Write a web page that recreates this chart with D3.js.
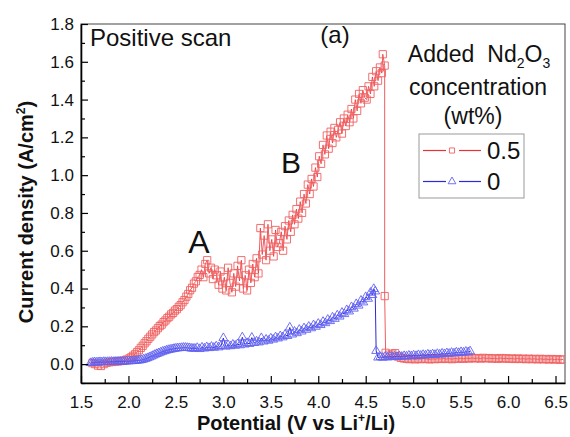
<!DOCTYPE html>
<html><head><meta charset="utf-8">
<script src="https://cdn.jsdelivr.net/npm/d3@7"></script>
<style>
body{margin:0;background:#fff}
svg{display:block}
text{font-family:"Liberation Sans",Arial,sans-serif;fill:#111}
</style>
</head><body>
<svg id="c" width="570" height="437"></svg>
<script>
const xTicks=[1.5,2.0,2.5,3.0,3.5,4.0,4.5,5.0,5.5,6.0,6.5];
const xMinor=[1.75,2.25,2.75,3.25,3.75,4.25,4.75,5.25,5.75,6.25];
const yTicks=[0.0,0.2,0.4,0.6,0.8,1.0,1.2,1.4,1.6,1.8];
const yMinor=[-0.1,0.1,0.3,0.5,0.7,0.9,1.1,1.3,1.5,1.7];
const legendLabels=["0.5","0"];

const redScan=[
[1.62,0.005],[1.65,0.0],[1.68,-0.008],[1.71,-0.01],[1.74,0.0],[1.77,0.007],[1.80,0.01],[1.83,0.011],[1.86,0.013],[1.89,0.014],[1.92,0.016],[1.95,0.019],[1.98,0.024],[2.01,0.03],
[2.03,0.036],[2.05,0.044],[2.07,0.052],[2.09,0.063],[2.11,0.073],[2.13,0.086],[2.15,0.097],[2.17,0.11],[2.19,0.121],[2.21,0.134],[2.23,0.145],[2.25,0.157],[2.27,0.169],[2.29,0.178],[2.31,0.19],[2.33,0.201],[2.35,0.209],[2.37,0.222],[2.39,0.231],[2.41,0.243],[2.43,0.251],[2.45,0.263],[2.47,0.271],[2.49,0.283],[2.51,0.291],[2.53,0.303],[2.55,0.312],[2.57,0.327],[2.59,0.339],[2.61,0.357],[2.63,0.371],[2.65,0.391],[2.67,0.404],[2.69,0.426],[2.71,0.438],[2.73,0.461],[2.75,0.472],
[2.77,0.50],[2.79,0.46],[2.81,0.53],[2.83,0.55],[2.85,0.48],[2.87,0.51],[2.89,0.45],[2.91,0.50],[2.93,0.47],[2.95,0.42],[2.97,0.49],[2.99,0.40],[3.01,0.46],[3.03,0.39],[3.05,0.51],[3.07,0.43],[3.09,0.38],[3.11,0.48],[3.13,0.41],[3.15,0.52],[3.17,0.44],[3.19,0.55],[3.21,0.40],[3.23,0.47],[3.25,0.39],[3.27,0.50],[3.29,0.43],[3.31,0.53],[3.33,0.46],[3.35,0.56],[3.37,0.48],[3.39,0.72],[3.41,0.58],[3.43,0.68],[3.45,0.55],[3.47,0.74],[3.49,0.60],[3.51,0.66],[3.53,0.57],[3.55,0.71],[3.57,0.62],[3.59,0.64],[3.61,0.70],[3.63,0.60],[3.65,0.73],
[3.67,0.66],[3.69,0.76],[3.71,0.70],[3.73,0.79],[3.75,0.74],[3.77,0.82],[3.79,0.77],[3.81,0.86],[3.83,0.80],[3.85,0.90],[3.87,0.85],[3.89,0.95],[3.91,0.90],[3.93,0.98],[3.95,0.94],[3.97,1.04],[3.99,0.99],[4.01,1.10],[4.03,1.06],[4.05,1.16],[4.07,1.11],[4.09,1.21],[4.11,1.14],[4.13,1.23],[4.15,1.17],[4.17,1.25],[4.19,1.20],[4.21,1.24],[4.23,1.28],[4.25,1.22],[4.27,1.30],[4.29,1.26],[4.31,1.32],[4.33,1.28],[4.35,1.35],[4.37,1.30],[4.39,1.40],[4.41,1.34],[4.43,1.43],[4.45,1.38],[4.47,1.45],[4.49,1.41],[4.51,1.40],[4.53,1.47],[4.55,1.43],[4.57,1.52],[4.59,1.47],[4.61,1.55],[4.63,1.50],[4.65,1.57],[4.67,1.54],[4.68,1.64],[4.70,1.58],
[4.70,0.36],[4.71,0.06],[4.75,0.05],[4.78,0.055],[4.81,0.058],[4.84,0.04],[4.87,0.033],[4.90,0.03],
[4.93,0.028],[4.96,0.026],[4.99,0.029],[5.02,0.025],[5.05,0.028],[5.08,0.026],[5.11,0.029],[5.14,0.027],[5.17,0.025],[5.20,0.028],[5.23,0.026],[5.26,0.029],[5.29,0.027],[5.32,0.03],[5.35,0.027],[5.38,0.029],[5.41,0.026],[5.44,0.03],[5.47,0.028],[5.50,0.031],[5.53,0.028],[5.56,0.032],[5.59,0.029],[5.62,0.033],[5.65,0.03],[5.68,0.032],[5.71,0.029],[5.74,0.033],[5.77,0.03],[5.80,0.032],[5.83,0.029],[5.86,0.031],[5.89,0.028],[5.92,0.032],[5.95,0.029],[5.98,0.031],[6.01,0.028],[6.04,0.03],[6.07,0.027],[6.10,0.03],[6.13,0.027],[6.16,0.029],[6.19,0.026],[6.22,0.029],[6.25,0.026],[6.28,0.028],[6.31,0.025],[6.34,0.028],[6.37,0.025],[6.40,0.027],[6.43,0.024],[6.46,0.027],[6.49,0.024],[6.52,0.026],[6.55,0.023],[6.58,0.025]
];

const blueScan=[
[1.60,0.006],[1.62,0.008],[1.64,0.01],[1.66,0.009],[1.68,0.01],[1.70,0.011],[1.72,0.01],[1.74,0.012],[1.76,0.011],[1.78,0.012],[1.80,0.012],[1.82,0.013],[1.84,0.012],[1.86,0.013],[1.88,0.013],[1.90,0.014],[1.92,0.013],[1.94,0.014],[1.96,0.014],[1.98,0.015],[2.00,0.015],[2.02,0.016],[2.04,0.016],[2.06,0.017],[2.08,0.018],[2.10,0.019],
[2.12,0.02],[2.14,0.022],[2.16,0.025],[2.18,0.028],[2.20,0.032],[2.22,0.036],[2.24,0.04],[2.26,0.045],[2.28,0.05],[2.30,0.054],[2.32,0.058],[2.34,0.062],[2.36,0.066],[2.38,0.069],[2.40,0.072],[2.42,0.075],[2.44,0.077],[2.46,0.079],[2.48,0.081],[2.50,0.083],[2.52,0.084],[2.54,0.085],[2.56,0.086],[2.58,0.087],[2.60,0.087],[2.62,0.086],[2.64,0.085],[2.66,0.083],[2.68,0.082],
[2.70,0.082],[2.725,0.086],[2.75,0.08],[2.775,0.088],[2.80,0.083],[2.825,0.09],[2.85,0.085],[2.875,0.092],[2.90,0.087],[2.925,0.094],[2.95,0.089],[2.975,0.096],[3.00,0.138],[3.025,0.093],[3.05,0.1],[3.075,0.095],[3.10,0.103],[3.125,0.098],[3.15,0.106],[3.175,0.1],[3.20,0.142],[3.225,0.104],[3.25,0.112],[3.275,0.107],[3.30,0.14],[3.325,0.112],[3.35,0.12],[3.375,0.115],[3.40,0.138],[3.425,0.12],[3.45,0.13],[3.475,0.124],[3.50,0.136],[3.525,0.13],[3.55,0.142],[3.575,0.136],[3.60,0.148],[3.625,0.142],[3.65,0.156],[3.675,0.149],[3.70,0.194],[3.725,0.157],[3.75,0.172],[3.775,0.164],[3.80,0.182],[3.825,0.173],[3.85,0.19],[3.875,0.182],[3.90,0.198],[3.925,0.19],[3.95,0.206],[3.975,0.198],[4.00,0.214],[4.025,0.207],[4.05,0.224],[4.075,0.217],[4.10,0.235],[4.125,0.228],[4.15,0.247],[4.175,0.24],[4.20,0.258],[4.225,0.252],[4.25,0.272],[4.275,0.265],[4.30,0.286],[4.325,0.279],[4.35,0.302],[4.375,0.294],[4.40,0.318],[4.425,0.31],[4.45,0.336],[4.475,0.327],[4.50,0.355],[4.525,0.346],[4.55,0.378],[4.57,0.366],[4.585,0.398],[4.60,0.385],
[4.61,0.07],[4.63,0.035],[4.655,0.038],[4.68,0.034],[4.705,0.039],[4.73,0.036],[4.755,0.04],[4.78,0.037],[4.805,0.041],[4.83,0.038],[4.855,0.042],[4.88,0.039],[4.905,0.043],[4.93,0.041],[4.955,0.045],[4.98,0.042],[5.005,0.046],[5.03,0.043],[5.055,0.048],[5.08,0.045],[5.105,0.049],[5.13,0.046],[5.155,0.051],[5.18,0.048],[5.205,0.052],[5.23,0.049],[5.255,0.054],[5.28,0.051],[5.305,0.056],[5.33,0.053],[5.355,0.058],[5.38,0.055],[5.405,0.06],[5.43,0.057],[5.455,0.062],[5.48,0.059],[5.505,0.064],[5.53,0.061],[5.555,0.066],[5.58,0.063],[5.60,0.068]
];

const svg=d3.select("#c");
const L=81,R=565,T=24,B=383;
const x=d3.scaleLinear().domain([1.5,6.6]).range([L,R]);
const y=d3.scaleLinear().domain([-0.1,1.8]).range([B,T]);

const redLine="#e8333a", redMark="#f06060", blueLine="#2a2ad8", blueMark="#6262f2";

// frame
svg.append("rect").attr("x",L).attr("y",T).attr("width",R-L).attr("height",B-T)
  .attr("fill","none").attr("stroke","#444").attr("stroke-width",1);

svg.append("defs").append("clipPath").attr("id","clip").append("rect")
  .attr("x",L).attr("y",T).attr("width",R-L).attr("height",B-T);
const plot=svg.append("g").attr("clip-path","url(#clip)");

const line=d3.line().x(d=>x(d[0])).y(d=>y(d[1]));
const sq=d3.symbol().type(d3.symbolSquare).size(52);
const tri=d3.symbol().type(d3.symbolTriangle).size(34);

plot.append("path").datum(redScan).attr("d",line).attr("fill","none").attr("stroke",redLine).attr("stroke-width",0.8);
plot.append("g").selectAll("path").data(redScan).join("path")
  .attr("d",sq).attr("transform",d=>`translate(${x(d[0])},${y(d[1])})`)
  .attr("fill","none").attr("stroke",redMark).attr("stroke-width",0.9);

plot.append("path").datum(blueScan).attr("d",line).attr("fill","none").attr("stroke",blueLine).attr("stroke-width",1);
plot.append("g").selectAll("path").data(blueScan).join("path")
  .attr("d",tri).attr("transform",d=>`translate(${x(d[0])},${y(d[1])})`)
  .attr("fill","none").attr("stroke",blueMark).attr("stroke-width",0.9);

// axes
const gx=svg.append("g").attr("transform",`translate(0,${B})`)
  .call(d3.axisBottom(x).tickValues(xTicks).tickFormat(d3.format(".1f")).tickSizeInner(-7).tickSizeOuter(0).tickPadding(13));
gx.selectAll("text").attr("font-size",17).attr("font-family","Liberation Sans, Arial, sans-serif").attr("fill","#111");
svg.append("g").attr("transform",`translate(0,${B})`)
  .call(d3.axisBottom(x).tickValues(xMinor).tickFormat("").tickSizeInner(-4).tickSizeOuter(0))
  .select(".domain").remove();

const gy=svg.append("g").attr("transform",`translate(${L},0)`)
  .call(d3.axisLeft(y).tickValues(yTicks).tickFormat(d3.format(".1f")).tickSizeInner(-7).tickSizeOuter(0).tickPadding(7));
gy.selectAll("text").attr("font-size",17).attr("font-family","Liberation Sans, Arial, sans-serif").attr("fill","#111");
svg.append("g").attr("transform",`translate(${L},0)`)
  .call(d3.axisLeft(y).tickValues(yMinor).tickFormat("").tickSizeInner(-4).tickSizeOuter(0))
  .select(".domain").remove();
svg.selectAll(".domain").attr("stroke","#000").attr("stroke-width",1.6);
svg.selectAll(".tick line").attr("stroke","#000").attr("stroke-width",1.2);

// axis titles
const xt=svg.append("text").attr("x",296).attr("y",430).attr("text-anchor","middle")
  .attr("font-size",20).attr("font-weight","bold");
xt.append("tspan").text("Potential (V vs Li");
xt.append("tspan").text("+").attr("font-size",12).attr("dy",-8);
xt.append("tspan").text("/Li)").attr("dy",8);

const yt=svg.append("text").attr("transform","translate(33,212) rotate(-90)").attr("text-anchor","middle")
  .attr("font-size",20).attr("font-weight","bold");
yt.append("tspan").text("Current density (A/cm");
yt.append("tspan").text("2").attr("font-size",12).attr("dy",-8);
yt.append("tspan").text(")").attr("dy",8);

// annotations
svg.append("text").attr("x",90).attr("y",46).attr("font-size",24).text("Positive scan");
svg.append("text").attr("x",335).attr("y",43).attr("text-anchor","middle").attr("font-size",24).text("(a)");
svg.append("text").attr("x",199).attr("y",253).attr("text-anchor","middle").attr("font-size",32).text("A");
svg.append("text").attr("x",291).attr("y",173).attr("text-anchor","middle").attr("font-size",30).text("B");

// legend title
const lt1=svg.append("text").attr("x",479).attr("y",62).attr("text-anchor","middle").attr("font-size",23);
lt1.append("tspan").text("Added");
lt1.append("tspan").text("Nd").attr("dx",13);
lt1.append("tspan").text("2").attr("font-size",14).attr("dy",6);
lt1.append("tspan").text("O").attr("dy",-6);
lt1.append("tspan").text("3").attr("font-size",14).attr("dy",6);
svg.append("text").attr("x",478).attr("y",95).attr("text-anchor","middle").attr("font-size",23).text("concentration");
svg.append("text").attr("x",473).attr("y",124).attr("text-anchor","middle").attr("font-size",23).text("(wt%)");

// legend box
svg.append("rect").attr("x",419).attr("y",134).attr("width",105).attr("height",64)
  .attr("fill","#fff").attr("stroke","#999").attr("stroke-width",1);
const rows=[{c:redLine,m:redMark,s:d3.symbol().type(d3.symbolSquare).size(26),yy:150.5},
            {c:blueLine,m:blueMark,s:d3.symbol().type(d3.symbolTriangle).size(26),yy:181.5}];
rows.forEach((r,i)=>{
  const g=svg.append("g");
  g.append("line").attr("x1",423).attr("x2",446).attr("y1",r.yy).attr("y2",r.yy).attr("stroke",r.c).attr("stroke-width",1.2);
  g.append("line").attr("x1",459).attr("x2",481).attr("y1",r.yy).attr("y2",r.yy).attr("stroke",r.c).attr("stroke-width",1.2);
  g.append("path").attr("d",r.s).attr("transform",`translate(452,${r.yy})`).attr("fill","none").attr("stroke",r.m).attr("stroke-width",0.9);
  g.append("text").attr("x",487).attr("y",r.yy+8).attr("font-size",24).text(legendLabels[i]);
});
</script>
</body></html>
